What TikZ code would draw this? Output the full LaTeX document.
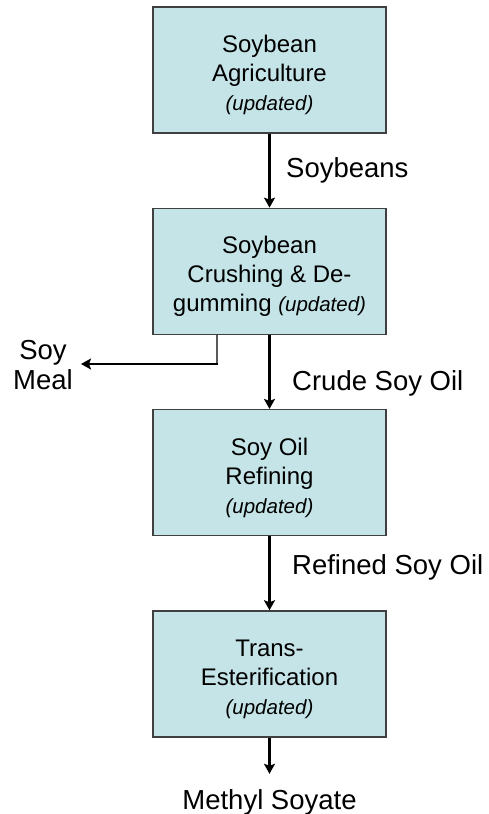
\documentclass[tikz,border=0pt]{standalone}
\usepackage{fontspec}
\setmainfont{Liberation Sans}
\usetikzlibrary{positioning,arrows.meta}
\definecolor{boxfill}{RGB}{197,228,232}
\newcommand{\upd}{{\fontsize{20.5}{25}\selectfont\itshape (updated)}}
\newcommand{\lift}{\rule{0pt}{27.5pt}}

\begin{document}
\begin{tikzpicture}[x=1pt,y=-1pt,
  node distance=74pt,
  stage/.style={rectangle,draw=black!75,line width=1.3pt,fill=boxfill,
    minimum width=233pt,minimum height=126pt,align=center,
    font=\fontsize{24}{29}\selectfont},
  flow/.style={line width=3pt,-{Stealth[length=10pt,width=11pt,inset=2pt]}},
  lbl/.style={anchor=west,inner sep=0pt,font=\fontsize{27.5}{30}\selectfont}]
\useasboundingbox (0,0) rectangle (489,814);
\node[stage](agri) at (269.5,70){\lift Soybean\\Agriculture\\ \upd};
\node[stage,below=of agri](crush){\lift Soybean\\Crushing \& De-\\gumming \upd};
\node[stage,below=of crush](refine){\lift Soy Oil\\Refining\\ \upd};
\node[stage,below=of refine](ester){\lift Trans-\\Esterification\\ \upd};

\node[lbl](soybeans) at (286,170){Soybeans};
\node[lbl](crude) at (292,383){Crude Soy Oil};
\node[lbl](refined) at (292,567){Refined Soy Oil};
\node[lbl,anchor=center,align=center,inner xsep=8pt](meal) at (43,365){Soy\\Meal};
\node[lbl,anchor=base,inner ysep=15pt,text height=20pt,text depth=6pt](methyl)
  at (269.5,809){Methyl Soyate};
\coordinate (bend) at (217,364);

\draw[flow] (agri) -- (crush);
\draw[flow] (crush) -- (refine);
\draw[flow] (refine) -- (ester);
\draw[flow] (ester) -- (methyl);
\draw[line width=1.7pt,black!65] (crush.south -| bend) -- (bend);
\draw[flow,line width=2.5pt] ([xshift=0.85pt]bend) -- (meal.east |- bend);
\end{tikzpicture}
\end{document}
